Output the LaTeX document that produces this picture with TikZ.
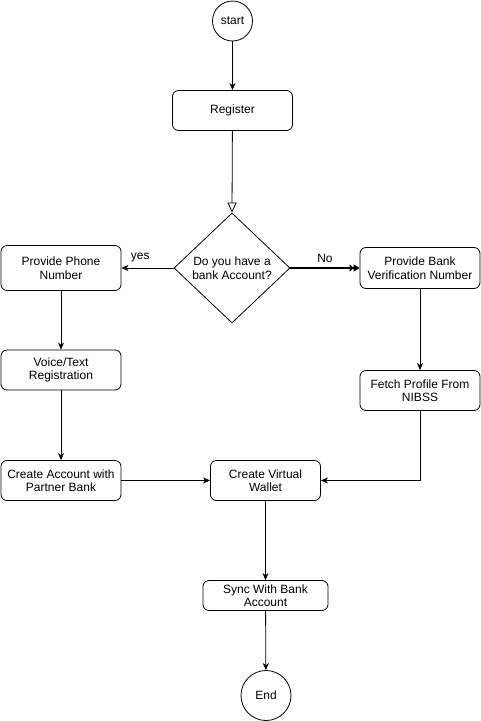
\documentclass[tikz,border=0pt]{standalone}
\usepackage{fontspec}
\setmainfont{Liberation Sans}
\usetikzlibrary{arrows.meta,shapes.geometric}
\begin{document}
\begin{tikzpicture}[x=1pt,y=-1pt,
  font=\fontsize{12}{13.5}\selectfont,
  box/.style={draw, rounded corners=6pt, line width=0.8pt, align=center, inner sep=0pt},
  circ/.style={draw, circle, line width=0.8pt, inner sep=0pt},
  conn/.style={line width=0.8pt, -{Stealth[length=7pt,width=6pt,inset=2pt]}},
  lbl/.style={inner sep=0pt}]
\useasboundingbox (0,0) rectangle (481,721);
\node[circ, minimum size=40pt] (start) at (232.5,21) {start};
\node[box, minimum width=120pt, minimum height=40pt] (reg) at (232.5,110.5) {Register};
\node[diamond, draw, line width=0.8pt, minimum width=116pt, minimum height=110pt, inner sep=0pt,
  label={[align=center, inner sep=0pt]center:Do you have a\\bank Account?}] (dia) at (232,268) {};
\node[box, minimum width=120pt, minimum height=45pt] (phone) at (61,268) {Provide Phone\\Number};
\node[box, minimum width=120pt, minimum height=41pt] (bank) at (420,268) {Provide Bank\\Verification Number};
\node[box, minimum width=120pt, minimum height=40pt] (voice) at (61,370) {Voice/Text\\Registration};
\node[box, minimum width=120pt, minimum height=40pt] (fetch) at (420,390.5) {Fetch Profile From\\NIBSS};
\node[box, minimum width=120pt, minimum height=40pt] (acct) at (61,480.5) {Create Account with\\Partner Bank};
\node[box, minimum width=110pt, minimum height=40pt] (wallet) at (265.5,480.5) {Create Virtual\\Wallet};
\node[box, minimum width=125pt, minimum height=30pt] (sync) at (265.5,595.5) {Sync With Bank\\Account};
\node[circ, minimum size=50pt] (end) at (266,695.5) {End};

\draw[conn] (start) -- (reg);
\draw[line width=0.8pt, -{Triangle[open,length=10pt,width=9pt]}] (reg) -- (dia.north);
\draw[conn] (dia.west) -- (phone.east) node[lbl, pos=0.64, above=6pt] (yes) {yes};
\draw[line width=1.4pt, -{Triangle[open,length=4pt,width=7pt]Triangle[length=6pt,width=7pt]}] (dia.east) -- (bank.west) node[lbl, pos=0.5, above=5pt] (no) {No};
\draw[conn] (phone) -- (voice);
\draw[conn] (voice) -- (acct);
\draw[conn] (acct) -- (wallet);
\draw[conn] (bank) -- (fetch);
\draw[conn] (fetch.south) |- (wallet.east);
\draw[conn] (wallet) -- (sync);
\draw[conn] (sync) -- (end);
\end{tikzpicture}
\end{document}
